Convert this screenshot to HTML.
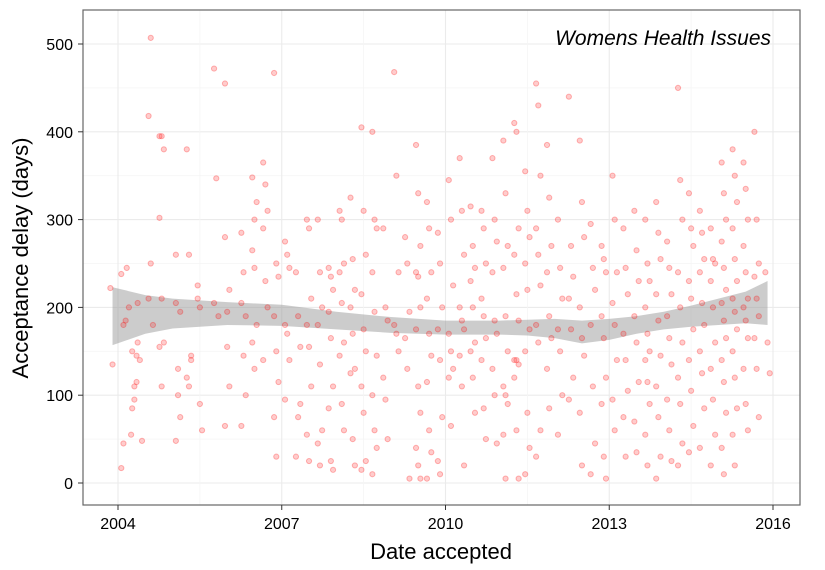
<!DOCTYPE html>
<html><head><meta charset="utf-8">
<style>
html,body{margin:0;padding:0;background:#fff;}
svg{display:block;font-family:"Liberation Sans",sans-serif;}
</style></head><body>
<svg id="chart" width="825" height="570" viewBox="0 0 825 570" xmlns="http://www.w3.org/2000/svg">
<g id="grid"></g>
<g id="band"></g>
<g id="points"></g>
<rect x="83" y="10" width="717" height="495" fill="none" stroke="#666" stroke-width="1.2"/>
<g id="axes"></g>
<text x="771" y="45" text-anchor="end" font-size="21" font-style="italic" fill="#000">Womens Health Issues</text>
<text x="441" y="559" text-anchor="middle" font-size="22" fill="#000">Date accepted</text>
<text transform="translate(28,258) rotate(-90)" text-anchor="middle" font-size="22" fill="#000">Acceptance delay (days)</text>
</svg>
<script>
const xTicks=[2004,2007,2010,2013,2016];
const yTicks=[0,100,200,300,400,500];
const bandYears=[2003.9,2004.5,2005,2005.5,2006,2007,2008,2009,2010,2011,2011.5,2012,2012.5,2013,2013.5,2014,2014.5,2015,2015.5,2015.9];
const bandMean=[190,192,193,193,193,191,185,180,177,177,177,176,172,175,180,185,190,195,200,205];
const bandHalf=[33,22,17,15,13,12,10,9,8,8,9,11,13,12,10,10,12,15,18,25];
const groups=[
[2003.9,[222,135]],[2004.1,[238,180,185,17,45]],[2004.2,[245,200,55]],[2004.3,[150,110,115,85,95,145]],
[2004.4,[160,140,48,205]],[2004.6,[418,507,180,210,250]],[2004.8,[395,395,380,302,210,160,155,110]],
[2005.1,[205,100,75,48,130,195,260]],[2005.3,[380,260,140,120,110,145]],[2005.5,[210,90,60,225,200]],
[2005.8,[472,347,190,205]],[2006.0,[455,195,220,280,155,110,65]],[2006.3,[285,240,190,205,145,100,65]],
[2006.5,[348,300,320,265,245,180,160,130]],[2006.7,[365,340,310,290,230,200,140]],[2006.9,[467,250,235,190,150,115,75,30]],
[2007.1,[275,260,245,180,170,140,95]],[2007.3,[240,190,155,30,75,90]],[2007.5,[300,290,210,180,155,110,55,25]],
[2007.7,[300,240,200,180,135,60,45,20]],[2007.9,[245,235,220,195,165,110,85,25,15]],[2008.1,[310,300,250,240,205,160,145,90,60]],
[2008.3,[325,255,220,200,170,130,125,50,20]],[2008.5,[405,310,260,215,175,150,110,80,25,15]],[2008.7,[400,300,290,240,195,145,100,60,40,10]],
[2008.9,[290,200,185,120,95,50]],[2009.1,[468,350,240,180,170,150]],[2009.3,[280,250,195,165,130,5]],
[2009.5,[385,330,270,240,235,200,175,110,80,40,20,5]],[2009.7,[320,290,240,210,170,145,115,60,35,5]],[2009.9,[285,250,200,175,140,75,25,10]],
[2010.1,[345,300,225,170,150,130,120,65]],[2010.3,[370,310,260,200,185,175,145,110,20]],[2010.5,[315,270,245,230,200,160,150,120,80]],
[2010.7,[310,290,250,210,190,165,140,85,50]],[2010.9,[370,300,275,240,185,170,130,100,45]],[2011.1,[390,330,270,245,190,150,110,100,90,55,5]],
[2011.3,[410,400,290,260,215,185,140,140,135,120,60,5]],[2011.5,[355,310,280,250,220,175,150,80,40,10]],[2011.7,[455,430,350,290,260,225,180,160,60,30]],
[2011.9,[385,325,270,240,190,165,130,85]],[2012.1,[300,245,210,175,150,100,55]],[2012.3,[440,270,235,210,175,120,95]],
[2012.5,[390,320,280,200,165,145,80,20]],[2012.7,[295,245,220,180,110,45,10]],[2012.9,[270,255,240,190,165,120,90,30,5]],
[2013.1,[350,300,240,205,180,140,95,60]],[2013.3,[290,245,215,170,140,105,75,30]],[2013.5,[310,265,230,190,160,115,70,35]],
[2013.7,[300,250,230,200,170,150,140,115,90,55,20]],[2013.9,[320,285,255,215,185,145,110,75,30,5]],[2014.1,[275,245,215,190,165,135,95,60,25]],
[2014.3,[450,345,300,240,200,160,120,90,45,20]],[2014.5,[330,290,270,230,210,175,140,105,65,35]],[2014.7,[310,285,255,240,205,180,150,125,85,40]],
[2014.9,[290,255,250,230,200,160,130,95,55,20]],[2015.1,[365,330,300,275,245,220,205,185,165,140,115,80,40,10]],
[2015.3,[380,350,320,290,255,230,210,195,175,150,120,85,55,20]],[2015.5,[365,335,300,270,240,210,200,185,165,130,90,60]],
[2015.7,[400,300,250,235,210,190,165,130,75]],[2015.9,[240,160,125]]
];
const NS="http://www.w3.org/2000/svg";
const X=v=>118+(v-2004)*(655/12);
const Y=v=>483-v*0.878;
function mk(t,a,p){const e=document.createElementNS(NS,t);for(const k in a)e.setAttribute(k,a[k]);p.appendChild(e);return e;}
const grid=document.getElementById('grid'),axes=document.getElementById('axes');
mk('rect',{x:83,y:10,width:717,height:495,fill:'#fff'},grid);
for(let i=0;i<yTicks.length;i++){
 const v=yTicks[i];
 const g=mk('line',{x1:83,x2:800,y1:Y(v),y2:Y(v),stroke:'#ebebeb','stroke-width':1.1},grid);
 
 if(i<yTicks.length-1){const m=mk('line',{x1:83,x2:800,y1:Y(v+50),y2:Y(v+50),stroke:'#f5f5f5','stroke-width':0.8},grid);
 }
 const t=mk('line',{x1:78,x2:83,y1:Y(v),y2:Y(v),stroke:'#333','stroke-width':1},axes);
 
 const l=mk('text',{x:73,y:Y(v)+6,'text-anchor':'end','font-size':16,fill:'#000'},axes);
 l.textContent=v;
}
for(let i=0;i<xTicks.length;i++){
 const v=xTicks[i];
 const g=mk('line',{x1:X(v),x2:X(v),y1:10,y2:505,stroke:'#ebebeb','stroke-width':1.1},grid);
 
 if(i<xTicks.length-1){const m=mk('line',{x1:X(v+1.5),x2:X(v+1.5),y1:10,y2:505,stroke:'#f5f5f5','stroke-width':0.8},grid);
 }
 const t=mk('line',{x1:X(v),x2:X(v),y1:505,y2:510,stroke:'#333','stroke-width':1},axes);
 
 const l=mk('text',{x:X(v),y:529,'text-anchor':'middle','font-size':16,fill:'#000'},axes);
 l.textContent=v;
}
let up=[],dn=[];
for(let i=0;i<bandYears.length;i++){up.push(X(bandYears[i])+','+Y(bandMean[i]+bandHalf[i]));dn.unshift(X(bandYears[i])+','+Y(bandMean[i]-bandHalf[i]));}
const band=mk('polygon',{points:up.concat(dn).join(' '),fill:'#999','fill-opacity':0.5},document.getElementById('band'));

const pts=document.getElementById('points');
groups.forEach(g=>{g[1].forEach((d,j)=>{
 const c=mk('circle',{cx:X(g[0]+((j%3)-1)*0.04),cy:Y(d),r:2.6,fill:'rgba(255,0,0,0.2)',stroke:'rgba(255,0,0,0.28)','stroke-width':1},pts);
 
});});
</script>
</body></html>
